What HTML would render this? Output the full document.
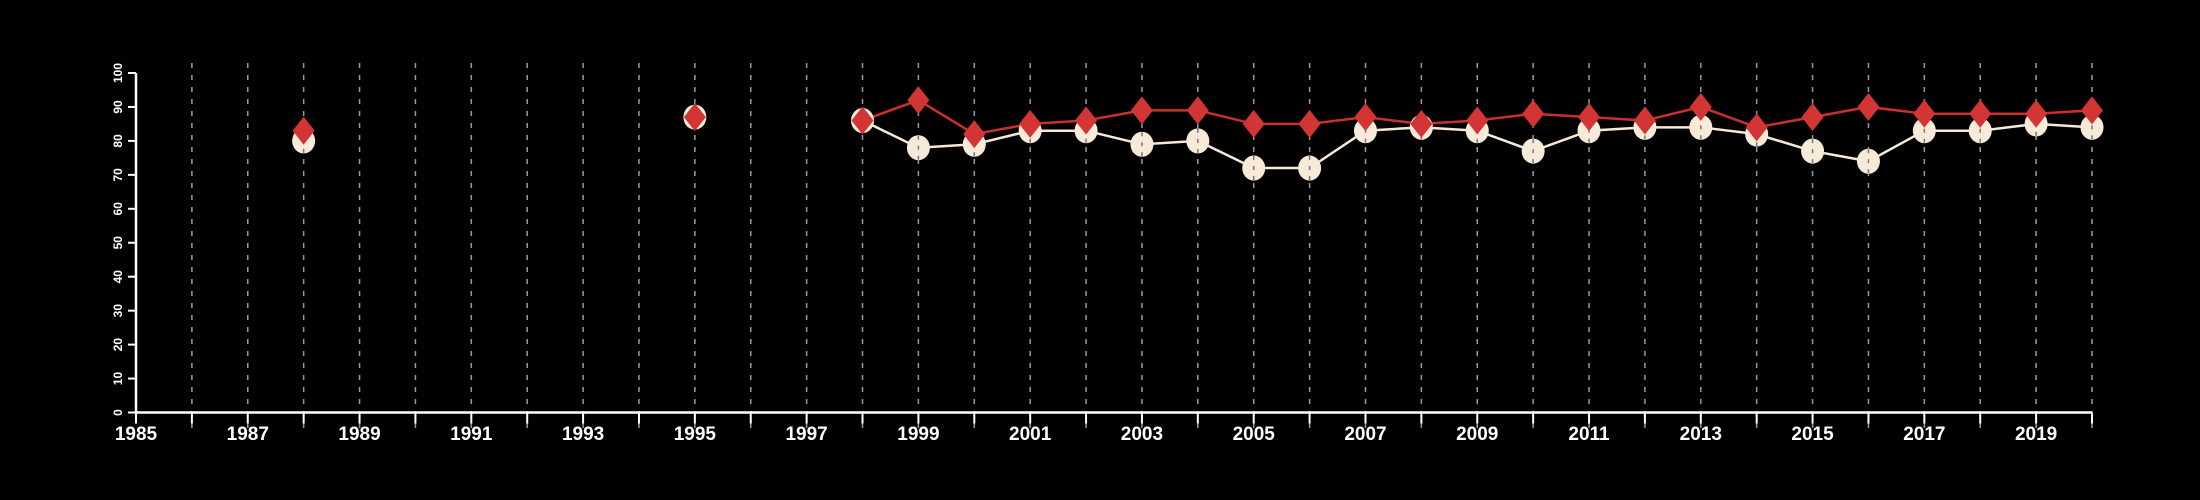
<!DOCTYPE html>
<html><head><meta charset="utf-8"><style>
html,body{margin:0;padding:0;background:#000;}
svg{display:block;}
text{font-family:"Liberation Sans",sans-serif;fill:#fff;font-weight:bold;}
</style></head><body>
<svg id="chart" width="2200" height="500" viewBox="0 0 2200 500">
<g id="grid"></g>
<g id="axes"></g>
<g id="series"></g>
</svg>
<script>
const years = [1988,1995,1998,1999,2000,2001,2002,2003,2004,2005,2006,2007,2008,2009,2010,2011,2012,2013,2014,2015,2016,2017,2018,2019,2020];
const whiteValues = [80,87,86,78,79,83,83,79,80,72,72,83,84,83,77,83,84,84,82,77,74,83,83,85,84];
const redValues = [83,87,86,92,82,85,86,89,89,85,85,87,85,86,88,87,86,90,84,87,90,88,88,88,89];
const yTicks = [0,10,20,30,40,50,60,70,80,90,100];
const xTickLabels = [1985,1987,1989,1991,1993,1995,1997,1999,2001,2003,2005,2007,2009,2011,2013,2015,2017,2019];

const NS="http://www.w3.org/2000/svg";
const X0=136,X1=2092,Y0=412.5,Y1=73;
const xs=y=>X0+(y-1985)/(2020-1985)*(X1-X0);
const ys=v=>Y0-v/100*(Y0-Y1);
function mk(tag,attrs,parent){const e=document.createElementNS(NS,tag);for(const k in attrs)e.setAttribute(k,attrs[k]);parent.appendChild(e);return e;}
const grid=document.getElementById('grid'),axes=document.getElementById('axes'),series=document.getElementById('series');

for(let yr=1986;yr<=2020;yr++){
  const l=mk('line',{x1:xs(yr),x2:xs(yr),y1:63,y2:428,stroke:'#9a9a9a','stroke-width':1.5,'stroke-dasharray':'5,7'},grid);
  
  
}
const xa=mk('line',{x1:X0,x2:X1,y1:Y0,y2:Y0,stroke:'#fff','stroke-width':2.5},axes);


const ya=mk('line',{x1:X0,x2:X0,y1:Y0,y2:Y1,stroke:'#fff','stroke-width':2.5},axes);


for(let yr=1985;yr<=2020;yr++){
  const t=mk('line',{x1:xs(yr),x2:xs(yr),y1:Y0,y2:Y0+11,stroke:'#fff','stroke-width':2},axes);
  
  
}
xTickLabels.forEach(yr=>{
  const t=mk('text',{x:xs(yr),y:440,'text-anchor':'middle','font-size':19},axes);
  t.textContent=yr;
  
  
});
yTicks.forEach(v=>{
  const t=mk('line',{x1:X0-8,x2:X0,y1:ys(v),y2:ys(v),stroke:'#fff','stroke-width':2},axes);
  
  
  const lb=mk('text',{x:0,y:0,'text-anchor':'middle','font-size':12,transform:`translate(122,${ys(v)}) rotate(-90)`},axes);
  lb.textContent=v;
  
  
});
function path(vals,col){
  let d='',prev=null;
  years.forEach((yr,i)=>{
    const p=`${xs(yr)},${ys(vals[i])}`;
    if(prev!==null && yr-prev===1) d+=' L'+p; else d+=' M'+p;
    prev=yr;
  });
  return mk('path',{d:d,fill:'none',stroke:col,'stroke-width':2.5},series);
}
const wl=path(whiteValues,'#f6e9d7');


const rl=path(redValues,'#c9302c');


years.forEach((yr,i)=>{
  const c=mk('ellipse',{cx:xs(yr),cy:ys(whiteValues[i]),rx:11.5,ry:12.5,fill:'#f8ead8'},series);
  
  
  const x=xs(yr),y=ys(whiteValues[i]);
  mk('line',{x1:x,x2:x,y1:y-12,y2:y+12,stroke:'#777','stroke-width':1.5,'stroke-dasharray':'4,6'},series);
});
years.forEach((yr,i)=>{
  const x=xs(yr),y=ys(redValues[i]);
  const d=mk('polygon',{points:`${x},${y-14} ${x+11},${y} ${x},${y+14} ${x-11},${y}`,fill:'#d33535'},series);
  
  
});
</script>
</body></html>
